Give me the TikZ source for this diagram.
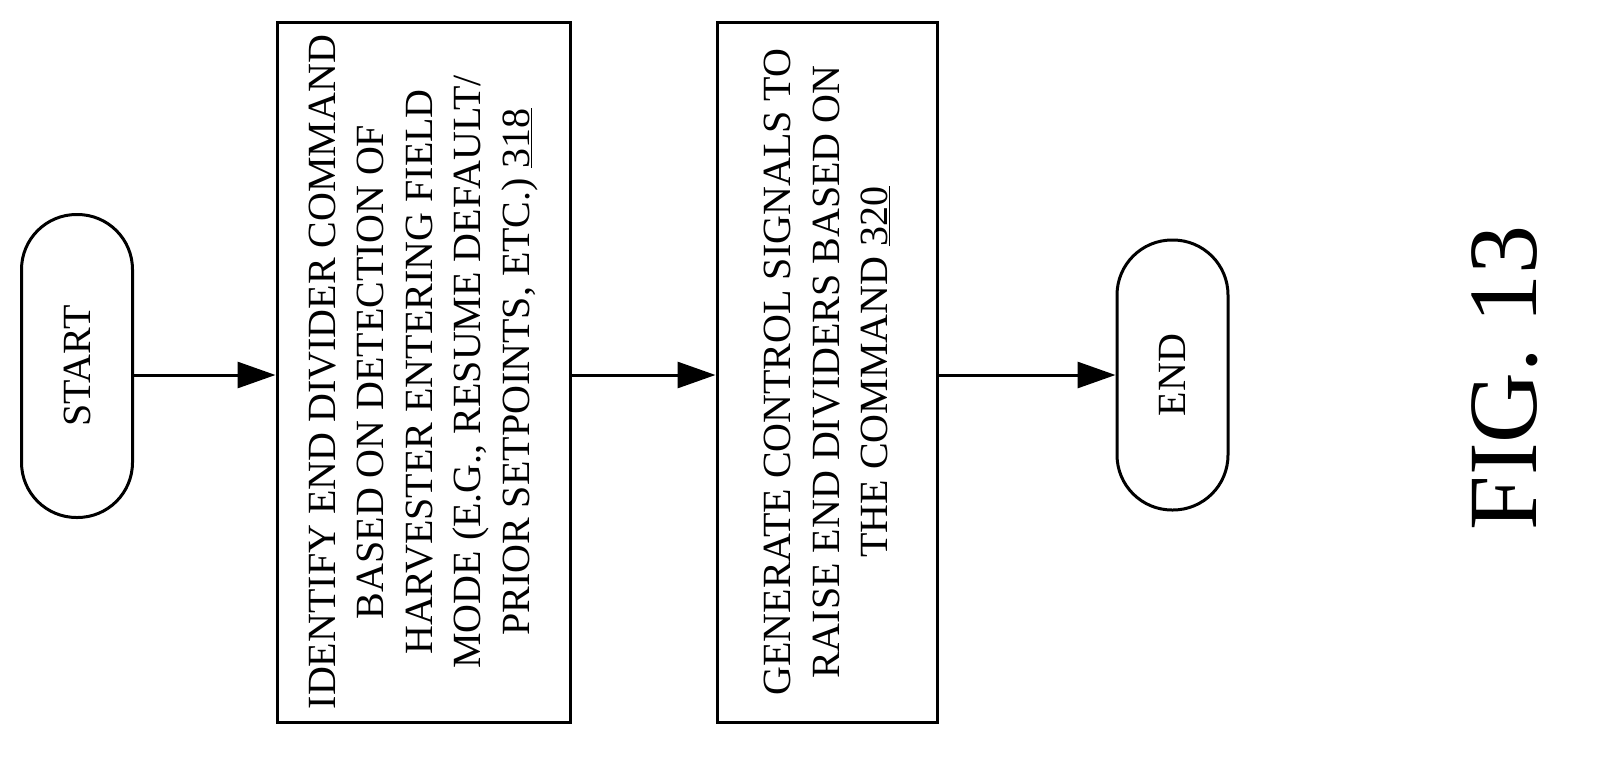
\documentclass[tikz,border=0pt]{standalone}
\usepackage{fontspec}
\setmainfont{Liberation Serif}
\usetikzlibrary{arrows.meta}
\begin{document}
\begin{tikzpicture}[x=1pt,y=-1pt,
  box/.style={draw,line width=3pt,rotate=90,align=center,font=\fontsize{40}{48.5}\selectfont,inner sep=0pt},
  term/.style={draw,line width=3pt,rounded corners=55pt,rotate=90,font=\fontsize{40}{36}\selectfont,inner sep=0pt},
  arr/.style={line width=3pt,-{Triangle[length=38pt,width=26pt]}}]
\useasboundingbox (0,0) rectangle (1608,766);
\node[term,minimum width=303pt,minimum height=111pt] (s) at (77,366) {START};
\node[box,minimum width=700pt,minimum height=293pt] (b1) at (423.5,372) {IDENTIFY END DIVIDER COMMAND\\BASED ON DETECTION OF\\HARVESTER ENTERING FIELD\\MODE (E.G., RESUME DEFAULT/\\PRIOR SETPOINTS, ETC.) \underline{318}};
\node[box,minimum width=700pt,minimum height=220pt] (b2) at (827,372) {GENERATE CONTROL SIGNALS TO\\RAISE END DIVIDERS BASED ON\\THE COMMAND \underline{320}};
\node[term,minimum width=270pt,minimum height=111pt] (e) at (1172.5,375) {END};
\node[rotate=90,font=\fontsize{98}{98}\selectfont] (f) at (1505,378) {FIG. 13};
\coordinate (a1) at (133,375);
\draw[arr] (s.south |- a1) -- (b1.north |- a1);
\draw[arr] (b1.south |- a1) -- (b2.north |- a1);
\draw[arr] (b2.south |- a1) -- (e.north |- a1);
\end{tikzpicture}
\end{document}
